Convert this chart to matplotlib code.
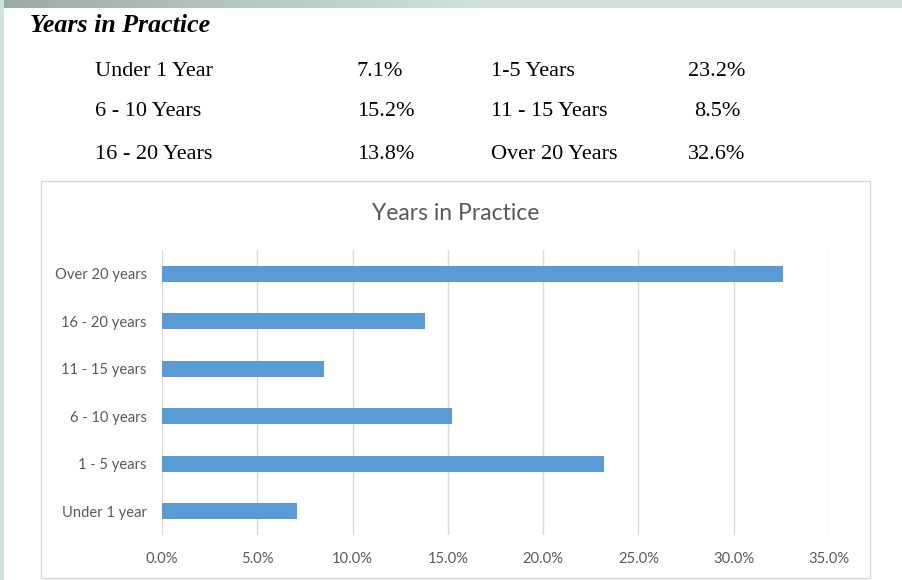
import numpy as np
import matplotlib.pyplot as plt
from matplotlib.patches import Rectangle

# data
cats = ['Under 1 year', '1 - 5 years', '6 - 10 years', '11 - 15 years', '16 - 20 years', 'Over 20 years']
vals = [7.1, 23.2, 15.2, 8.5, 13.8, 32.6]

tbl_left = ['Under 1 Year', '6 - 10 Years', '16 - 20 Years']
tbl_left_pct = ['7.1%', '15.2%', '13.8%']
tbl_right = ['1-5 Years', '11 - 15 Years', 'Over 20 Years']
tbl_right_pct = ['23.2%', '8.5%', '32.6%']

W, H = 902, 580
fig = plt.figure(figsize=(W/100, H/100), dpi=100)
fig.patch.set_facecolor('white')

def fx(px):
    return px/W
def fy(py):
    return 1 - py/H

# page background strips
fig.patches.append(Rectangle((0, 0), fx(4), 1, transform=fig.transFigure,
                             facecolor='#cfe2dc', edgecolor='none', zorder=0))
bar_ax = fig.add_axes([0, fy(8), 1, 8/H])
grad = np.linspace(0, 1, 256)
c0 = np.array([0.60, 0.67, 0.66])
c1 = np.array([0.81, 0.89, 0.86])
t = np.clip(grad*1.9, 0, 1)
img = (c0[None, :]*(1-t[:, None]) + c1[None, :]*t[:, None])[None, :, :]
bar_ax.imshow(img, aspect='auto', extent=[0, 1, 0, 1])
bar_ax.axis('off')

# header and table
serif = 'Liberation Serif'
fig.text(fx(30), fy(25), 'Years in Practice', family=serif, weight='bold', style='italic',
         fontsize=18.6, va='center', ha='left')
rows_y = [71, 112, 155]
fs = 16
for i in range(3):
    fig.text(fx(95), fy(rows_y[i]), tbl_left[i], family=serif, fontsize=fs, va='center')
    fig.text(fx(357), fy(rows_y[i]), tbl_left_pct[i], family=serif, fontsize=fs, va='center')
    fig.text(fx(491), fy(rows_y[i]), tbl_right[i], family=serif, fontsize=fs, va='center')
    fig.text(fx(717), fy(rows_y[i]), tbl_right_pct[i], family=serif, fontsize=fs, va='center', ha='center')

# chart box
fig.patches.append(Rectangle((fx(41), fy(578)), fx(870)-fx(41), fy(181)-fy(578),
                             transform=fig.transFigure, facecolor='white',
                             edgecolor='#d9d9d9', lw=1, zorder=0))

sans = 'Lato'
fig.text(fx(456), fy(213), 'Years in Practice', family=sans, fontsize=16.5,
         color='#595959', ha='center', va='center')

ax = fig.add_axes([fx(162), fy(535), fx(829)-fx(162), fy(250)-fy(535)])
ax.set_zorder(3)
ax.set_facecolor('none')
y = np.arange(len(cats))
ax.barh(y, vals, height=0.34, color='#5b9bd5', zorder=2)
ax.set_xlim(0, 35)
ax.set_ylim(-0.5, len(cats)-0.5)
ax.set_xticks(np.arange(0, 36, 5))
ax.set_xticklabels(['%.1f%%' % v for v in np.arange(0, 36, 5)])
ax.set_yticks(y)
ax.set_yticklabels(cats)
ax.grid(axis='x', color='#d9d9d9', lw=1, zorder=0)
for s in ax.spines.values():
    s.set_visible(False)
ax.tick_params(length=0, labelsize=10.6, labelcolor='#595959')
ax.tick_params(axis='x', pad=12)
ax.tick_params(axis='y', pad=11)
for lab in ax.get_xticklabels() + ax.get_yticklabels():
    lab.set_family(sans)

fig.savefig('out.png', dpi=100)
